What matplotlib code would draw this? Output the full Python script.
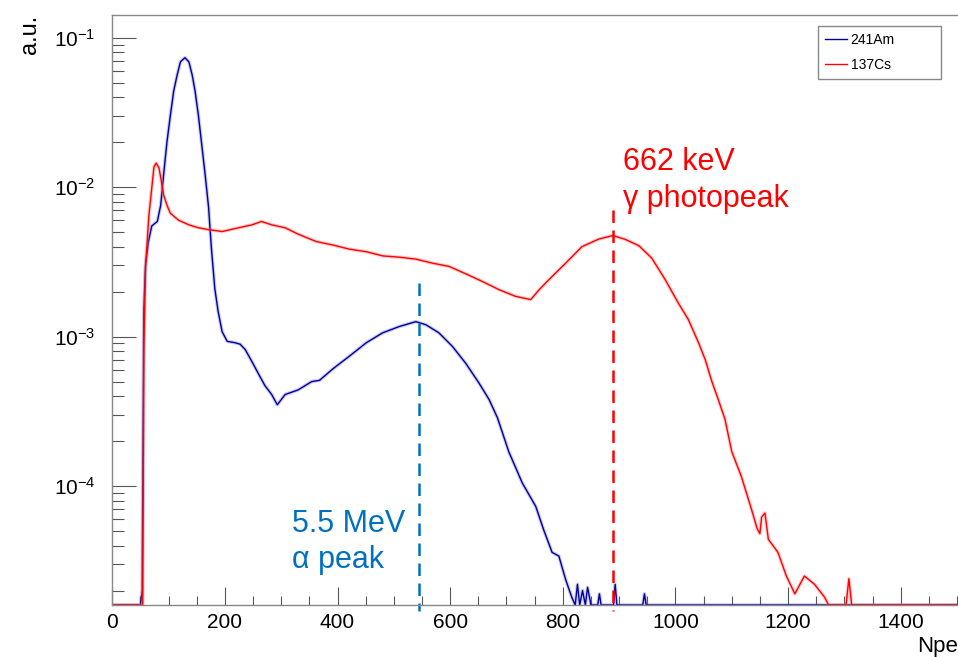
import numpy as np
import matplotlib
matplotlib.use("Agg")
from matplotlib import pyplot as plt
from matplotlib.lines import Line2D
from matplotlib.ticker import MultipleLocator, LogLocator, NullFormatter

plt.rcParams['font.family'] = ['Liberation Sans', 'DejaVu Sans']
plt.rcParams['mathtext.fontset'] = 'custom'
plt.rcParams['mathtext.rm'] = 'Liberation Sans'
plt.rcParams['mathtext.it'] = 'Liberation Sans:italic'

# 241Am spectrum (Npe, a.u.)
npe_am = [0, 50, 53, 56, 59, 64, 70, 80, 86, 91, 97, 103, 109, 115, 121, 129, 136,
          142, 147, 153, 159, 165, 171, 176, 182, 188, 195, 204, 218, 227, 236, 248,
          260, 271, 283, 293, 307, 330, 354, 368, 392, 421, 451, 480, 510, 539, 557,
          580, 604, 628, 651, 669, 684, 704, 728, 752, 766, 781, 793, 805, 816, 822,
          826, 830, 835, 840, 844, 850, 862, 865, 868, 890, 893, 896, 942, 945, 948, 1500]
am_vals = [0, 0, 2e-5, 1.55e-3, 3.0e-3, 4.3e-3, 5.5e-3, 5.9e-3, 7.6e-3, 1.2e-2, 2.0e-2,
           3.0e-2, 4.4e-2, 5.6e-2, 6.9e-2, 7.35e-2, 6.9e-2, 5.6e-2, 4.4e-2, 3.0e-2,
           1.9e-2, 1.2e-2, 7.3e-3, 3.9e-3, 2.1e-3, 1.47e-3, 1.08e-3, 9.3e-4, 9.1e-4,
           8.9e-4, 8.2e-4, 6.8e-4, 5.6e-4, 4.7e-4, 4.1e-4, 3.5e-4, 4.1e-4, 4.4e-4,
           5.0e-4, 5.1e-4, 6.1e-4, 7.4e-4, 9.1e-4, 1.06e-3, 1.17e-3, 1.26e-3, 1.2e-3,
           1.06e-3, 8.6e-4, 6.6e-4, 4.9e-4, 3.8e-4, 2.86e-4, 1.7e-4, 1.05e-4, 7.3e-5,
           5.1e-5, 3.6e-5, 3.4e-5, 2.37e-5, 1.8e-5, 0, 2.2e-5, 0, 2.0e-5, 0, 2.1e-5,
           0, 0, 1.9e-5, 0, 0, 2.2e-5, 0, 0, 1.9e-5, 0, 0]

# 137Cs spectrum (Npe, a.u.)
npe_cs = [0, 50, 54, 56, 59, 63, 65, 70, 74, 78, 83, 87, 91, 97, 103, 118, 136, 153,
          171, 195, 224, 248, 265, 283, 307, 330, 362, 392, 421, 451, 480, 510, 539,
          569, 598, 628, 657, 687, 716, 743, 758, 775, 805, 834, 864, 889, 911, 935,
          958, 982, 1005, 1023, 1041, 1053, 1064, 1076, 1088, 1100, 1117, 1135, 1145,
          1150, 1153, 1159, 1165, 1182, 1197, 1212, 1229, 1247, 1265, 1272, 1303,
          1308, 1313, 1500]
cs_vals = [0, 0, 1e-5, 8.5e-4, 2.9e-3, 5.0e-3, 6.5e-3, 9.8e-3, 1.37e-2, 1.45e-2,
           1.34e-2, 1.1e-2, 8.9e-3, 7.6e-3, 6.7e-3, 6.0e-3, 5.6e-3, 5.35e-3, 5.2e-3,
           5.05e-3, 5.35e-3, 5.6e-3, 5.9e-3, 5.6e-3, 5.35e-3, 4.85e-3, 4.33e-3, 4.1e-3,
           3.85e-3, 3.7e-3, 3.47e-3, 3.4e-3, 3.3e-3, 3.1e-3, 2.95e-3, 2.63e-3, 2.34e-3,
           2.06e-3, 1.86e-3, 1.77e-3, 2.06e-3, 2.4e-3, 3.1e-3, 4.0e-3, 4.5e-3, 4.75e-3,
           4.47e-3, 4.06e-3, 3.35e-3, 2.4e-3, 1.68e-3, 1.3e-3, 9.1e-4, 7.0e-4, 5.1e-4,
           3.8e-4, 2.8e-4, 1.7e-4, 1.16e-4, 7.0e-5, 5.2e-5, 4.8e-5, 6.2e-5, 6.6e-5,
           4.4e-5, 3.6e-5, 2.5e-5, 1.9e-5, 2.5e-5, 2.2e-5, 1.8e-5, 0, 0, 2.4e-5, 0, 0]

alpha_peak = 544
gamma_peak = 889

ymin, ymax = 1.6e-5, 0.142

fig = plt.figure(figsize=(9.58, 6.57), dpi=100)
ax = fig.add_axes([112.3/958, 52/657, 844.7/958, 590/657])

am_y = np.clip(am_vals, ymin, None)
cs_y = np.clip(cs_vals, ymin, None)
ax.plot(npe_am, am_y, color='#6a6ad0', lw=2.6, alpha=0.35)
ax.plot(npe_am, am_y, color='#000099', lw=1.0)
ax.plot(npe_cs, cs_y, color='#ff7070', lw=2.6, alpha=0.35)
ax.plot(npe_cs, cs_y, color='#ff0000', lw=1.0)

ax.plot([alpha_peak, alpha_peak], [2.3e-3, 1.45e-5], color='#0070c0', lw=1.8,
        dashes=(5, 3), clip_on=False)
ax.plot([gamma_peak, gamma_peak], [7.05e-3, 1.45e-5], color='#ff0000', lw=1.8,
        dashes=(5, 3), clip_on=False)

ax.text(319, 4.92e-5, '5.5 MeV', color='#0070c0', fontsize=22, va='baseline')
ax.text(319, 2.82e-5, 'α peak', color='#0070c0', fontsize=22, va='baseline')
ax.text(907, 1.30e-2, '662 keV', color='#ff0000', fontsize=22, va='baseline')
ax.text(907, 7.36e-3, 'γ photopeak', color='#ff0000', fontsize=22, va='baseline')

ax.set_yscale('log')
ax.set_xlim(0, 1500)
ax.set_ylim(ymin, ymax)
ax.xaxis.set_major_locator(MultipleLocator(200))
ax.xaxis.set_minor_locator(MultipleLocator(50))
ax.yaxis.set_major_locator(LogLocator(base=10))
ax.yaxis.set_minor_locator(LogLocator(base=10, subs=np.arange(2, 10)))
ax.yaxis.set_minor_formatter(NullFormatter())

ax.tick_params(axis='both', which='both', direction='in', color='#555555', width=0.8,
               labelsize=15, top=False, right=False)
ax.tick_params(axis='y', which='major', length=17, pad=12)
ax.tick_params(axis='y', which='minor', length=8.6)
ax.tick_params(axis='x', which='major', length=13, pad=6)
ax.tick_params(axis='x', which='minor', length=6.5)
for s in ['left', 'bottom', 'top']:
    ax.spines[s].set_color('#888888')
    ax.spines[s].set_linewidth(1.0)
ax.spines['right'].set_visible(False)

fig.text(30/958, 1 - 15/657, 'a.u.', rotation=90, ha='center', va='top', fontsize=17)
fig.text(917/958, 1 - 652/657, 'Npe', ha='left', va='baseline', fontsize=16)

handles = [Line2D([], [], color='#000099', lw=1.0), Line2D([], [], color='#ff0000', lw=1.0)]
leg = ax.legend(handles, ['241Am', '137Cs'], loc='upper left',
                bbox_to_anchor=(0.8355, 0.8915, 0.1455, 0.0895), mode='expand',
                fontsize=10, borderpad=0.5, labelspacing=0.8, handlelength=1.6,
                handletextpad=0.25, fancybox=False, framealpha=1, borderaxespad=0)
leg.get_frame().set_edgecolor('#888888')
leg.get_frame().set_linewidth(1.0)

fig.savefig('out.png', dpi=100)
